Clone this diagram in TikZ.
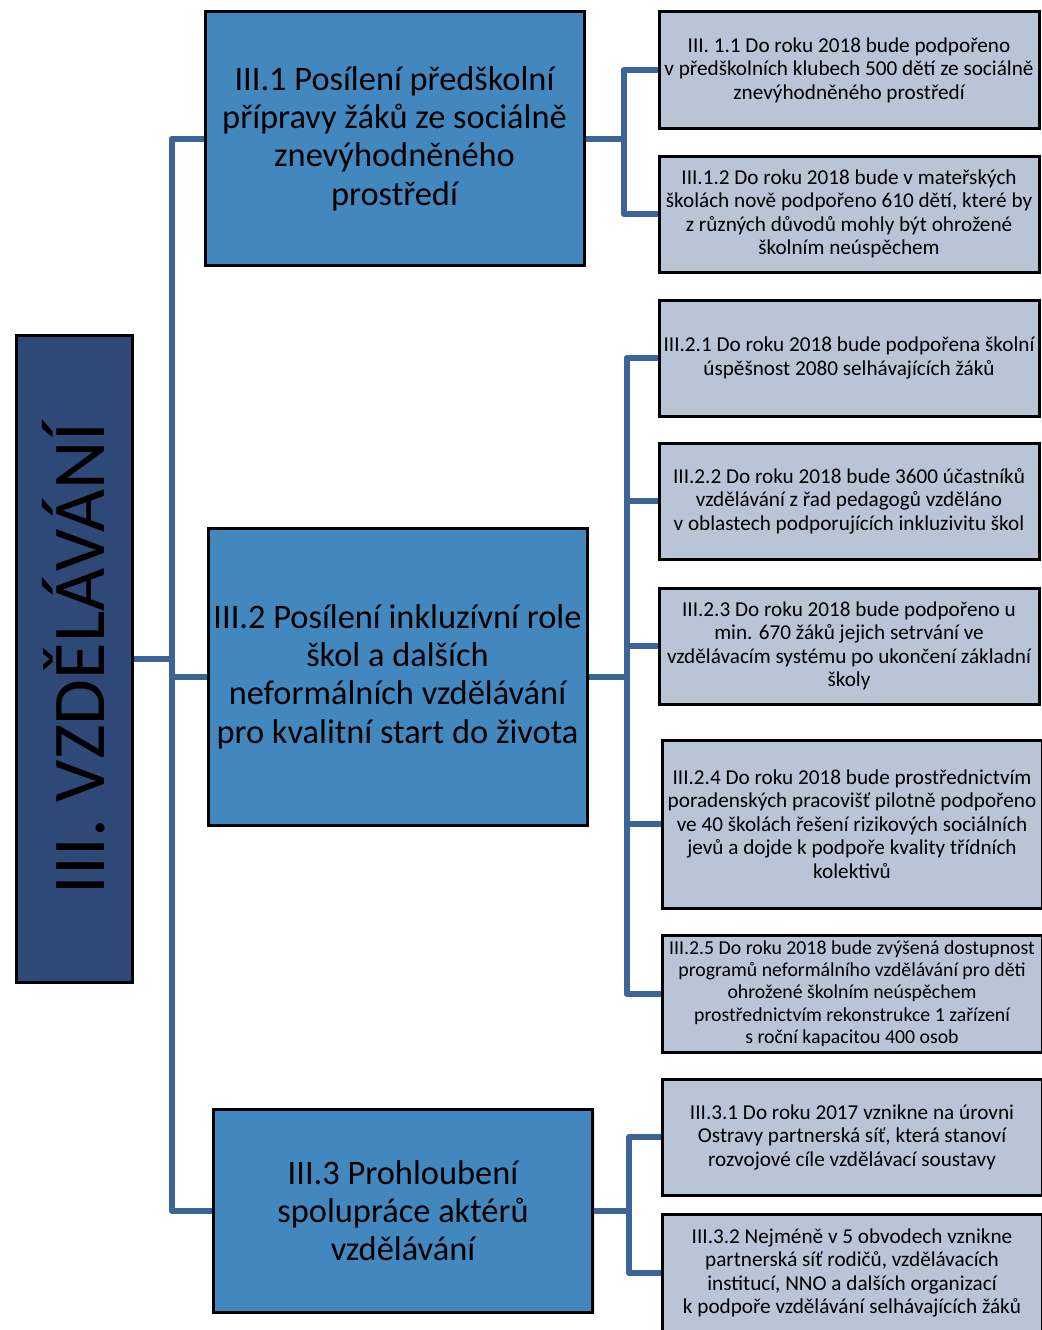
\documentclass[tikz,border=0pt]{standalone}
\usepackage{fontspec}
\setmainfont{Carlito}
\usetikzlibrary{positioning,backgrounds,shadows}

\definecolor{rootblue}{RGB}{46,73,120}
\definecolor{goalblue}{RGB}{66,136,190}
\definecolor{targetgray}{RGB}{185,196,214}
\definecolor{linkblue}{RGB}{61,100,153}

\begin{document}
\begin{tikzpicture}[
    x=1pt, y=-1pt,
    box/.style={rectangle, draw=black, line width=3pt, inner sep=0pt, align=center,
        drop shadow={shadow xshift=2pt, shadow yshift=-2pt, opacity=0.2}},
    root/.style={box, fill=rootblue, minimum width=116pt, minimum height=647pt},
    goal/.style={box, fill=goalblue, minimum width=379pt, font=\fontsize{34.4}{38.3}\selectfont},
    target/.style={box, fill=targetgray, minimum width=380pt, minimum height=116pt, font=\fontsize{21.2}{23.5}\selectfont},
    link/.style={draw=linkblue, line width=6pt, line join=round}
]
    \useasboundingbox (0,0) rectangle (1041,1330);

    % root
    \node[root] (root) at (74,658.5) {};
    \node[rotate=90, font=\fontsize{74.5}{80}\selectfont] (roottext) at (root.center) {III. VZDĚLÁVÁNÍ};

    % goals
    \node[goal, minimum height=253pt] (g1) at (394.5,138.5) {III.1 Posílení předškolní\\přípravy žáků ze sociálně\\znevýhodněného\\prostředí};
    \node[goal, minimum height=297pt] (g2) at (397.5,676.5) {III.2 Posílení inkluzívní role\\škol a dalších\\neformálních vzdělávání\\pro kvalitní start do života};
    \node[goal, minimum height=203pt] (g3) at (403,1210.5) {III.3 Prohloubení\\spolupráce aktérů\\vzdělávání};

    % targets
    \node[target] (t11) at (849,70) {III. 1.1 Do roku 2018 bude podpořeno\\v předškolních klubech 500 dětí ze sociálně\\znevýhodněného prostředí};
    \node[target] (t12) at (849,214) {III.1.2 Do roku 2018 bude v mateřských\\školách nově podpořeno 610 dětí, které by\\z různých důvodů mohly být ohrožené\\školním neúspěchem};
    \node[target] (t21) at (849,358) {III.2.1 Do roku 2018 bude podpořena školní\\úspěšnost 2080 selhávajících žáků};
    \node[target] (t22) at (849,501) {III.2.2 Do roku 2018 bude 3600 účastníků\\vzdělávání z řad pedagogů vzděláno\\v oblastech podporujících inkluzivitu škol};
    \node[target] (t23) at (849,646) {III.2.3 Do roku 2018 bude podpořeno u\\min. 670 žáků jejich setrvání ve\\vzdělávacím systému po ukončení základní\\školy};
    \node[target, minimum height=168pt] (t24) at (852,824) {III.2.4 Do roku 2018 bude prostřednictvím\\poradenských pracovišť pilotně podpořeno\\ve 40 školách řešení rizikových sociálních\\jevů a dojde k podpoře kvality třídních\\kolektivů};
    \node[target, minimum height=117pt, font=\fontsize{19.8}{22.3}\selectfont] (t25) at (852,993.5) {III.2.5 Do roku 2018 bude zvýšená dostupnost\\programů neformálního vzdělávání pro děti\\ohrožené školním neúspěchem\\prostřednictvím rekonstrukce 1 zařízení\\s roční kapacitou 400 osob};
    \node[target] (t31) at (852,1137) {III.3.1 Do roku 2017 vznikne na úrovni\\Ostravy partnerská síť, která stanoví\\rozvojové cíle vzdělávací soustavy};
    \node[target, minimum height=118pt] (t32) at (852,1273) {III.3.2 Nejméně v 5 obvodech vznikne\\partnerská síť rodičů, vzdělávacích\\institucí, NNO a dalších organizací\\k podpoře vzdělávání selhávajících žáků};

    % connectors
    \begin{scope}[on background layer]
        \coordinate (trunk) at ([xshift=38pt]root.east);
        \draw[link] (root.east) -- (trunk);
        \foreach \g in {g1,g2,g3}
            \draw[link] (trunk) |- (\g.west);
        \foreach \t in {t11,t12}
            \draw[link] (g1.east) -- ++(38,0) |- (\t.west);
        \foreach \t in {t21,t22,t23,t24,t25}
            \draw[link] (g2.east) -- ++(38,0) |- (\t.west);
        \foreach \t in {t31,t32}
            \draw[link] (g3.east) -- ++(35,0) |- (\t.west);
    \end{scope}
\end{tikzpicture}
\end{document}
